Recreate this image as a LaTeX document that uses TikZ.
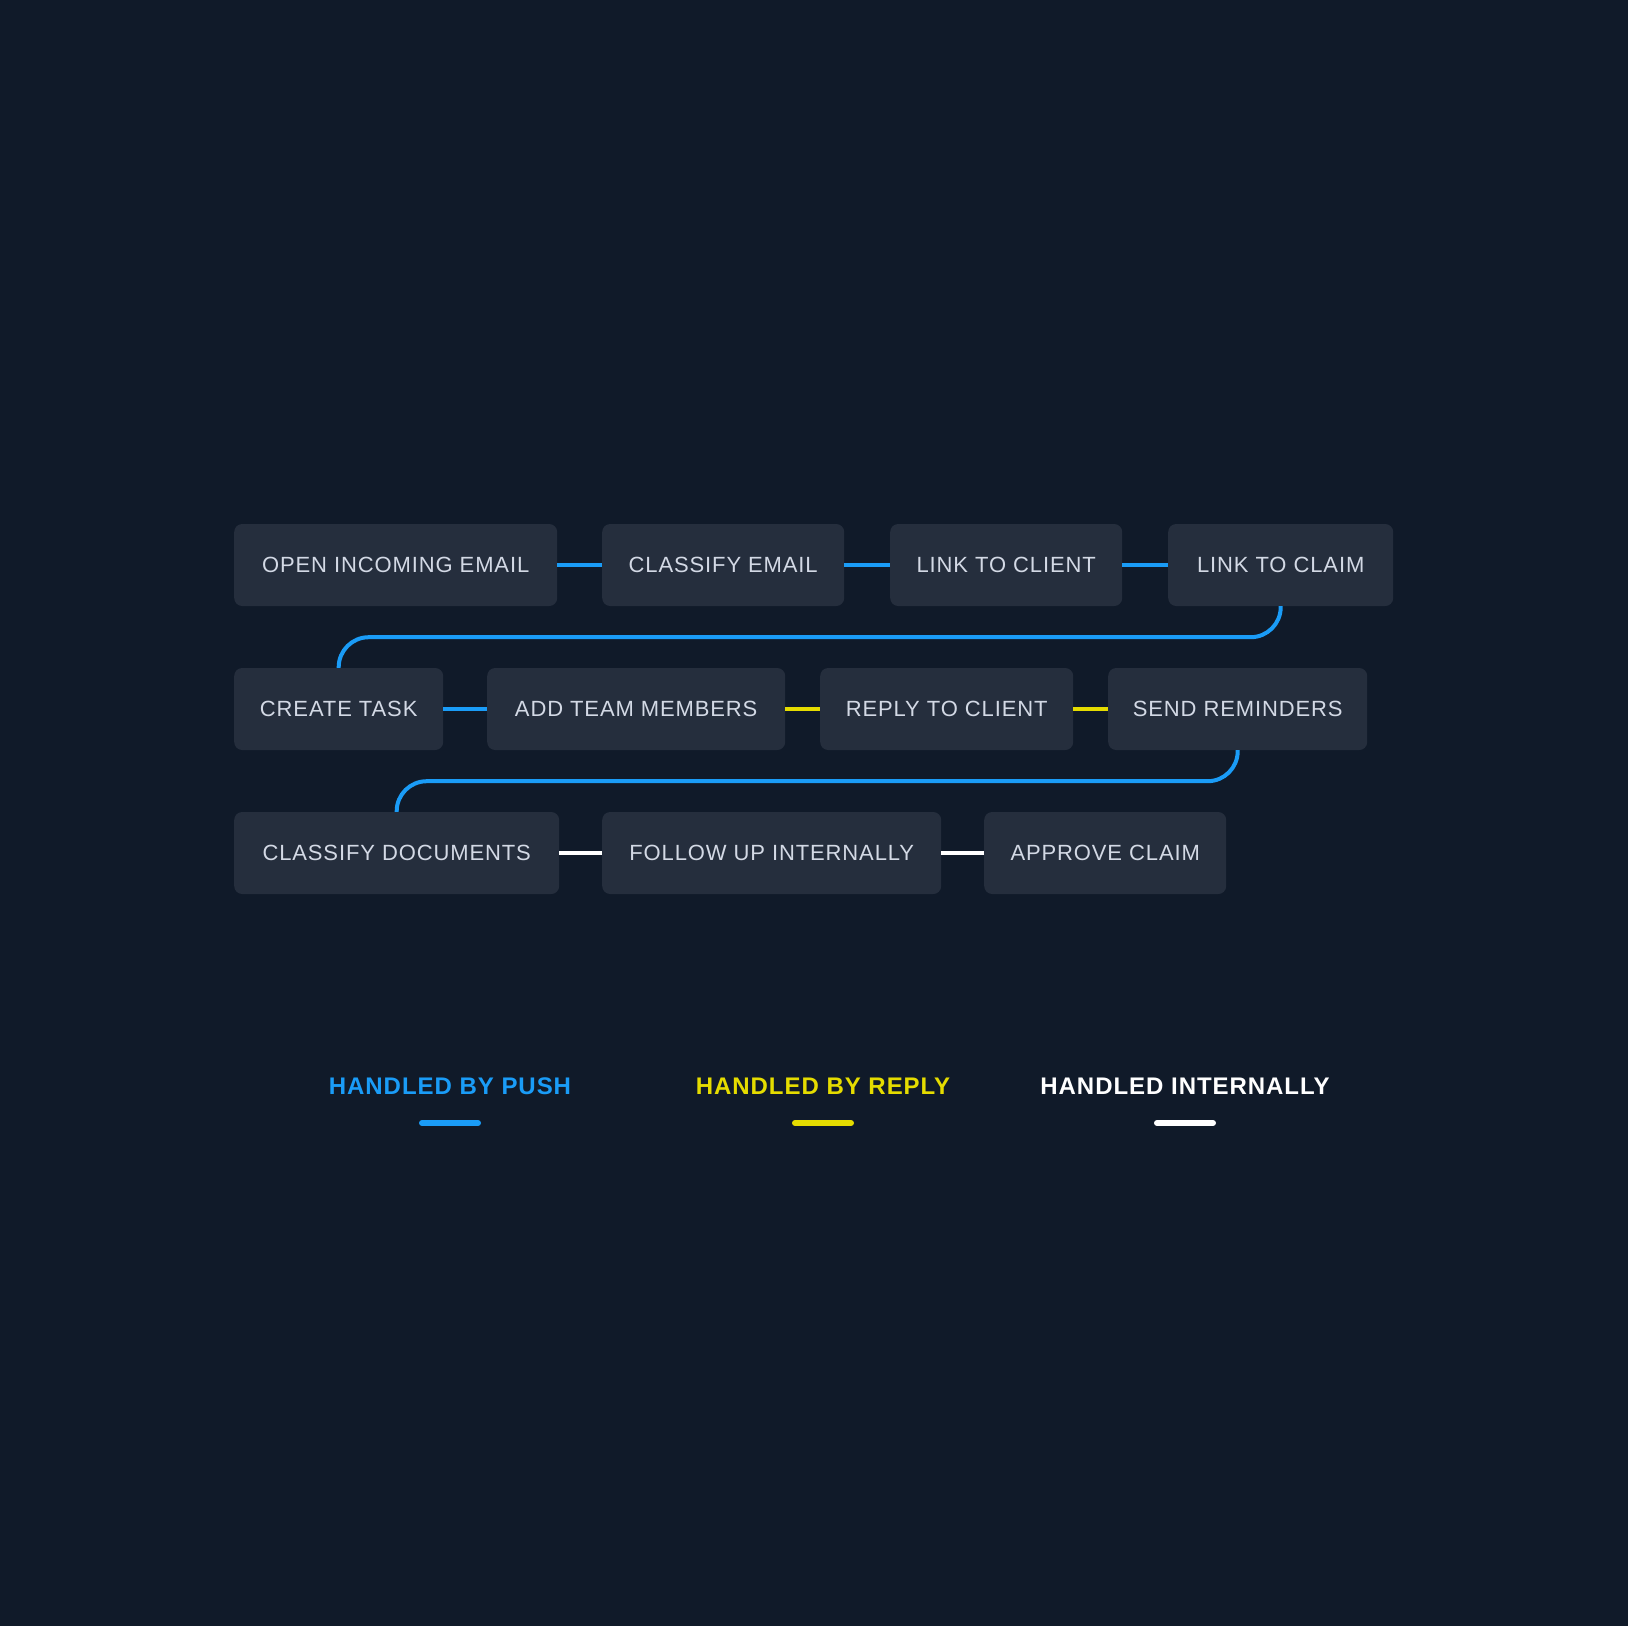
\documentclass[tikz,border=0pt]{standalone}
\usepackage{fontspec}
\setmainfont{Liberation Sans}[LetterSpace=4]
\usetikzlibrary{calc}
\definecolor{bgnavy}{HTML}{101A29}
\definecolor{boxgray}{HTML}{252E3D}
\definecolor{boxtext}{HTML}{D3D9E5}
\definecolor{pushblue}{HTML}{1A9CF7}
\definecolor{replyyellow}{HTML}{E5DC00}
\tikzset{
  stepbox/.style={fill=boxgray,rounded corners=8pt,anchor=west,
    minimum height=82pt,inner xsep=0pt,text=boxtext,
    font=\fontsize{22}{26}\selectfont},
  push/.style={draw=pushblue,line width=4pt},
  reply/.style={draw=replyyellow,line width=4pt},
  inhouse/.style={draw=white,line width=4pt},
  keytext/.style={font=\fontsize{24}{28}\selectfont\bfseries},
  keybar/.style={line width=6pt,line cap=round}
}
\begin{document}
\begin{tikzpicture}[x=1pt,y=-1pt]
\fill[bgnavy] (0,0) rectangle (1628,1626);
% first row
\node[stepbox,minimum width=323pt] (open) at (234,565) {OPEN INCOMING EMAIL};
\node[stepbox,minimum width=242pt] (classify) at (602,565) {CLASSIFY EMAIL};
\node[stepbox,minimum width=232pt] (client) at (890,565) {LINK TO CLIENT};
\node[stepbox,minimum width=225pt] (claim) at (1168,565) {LINK TO CLAIM};
% second row
\node[stepbox,minimum width=209pt] (task) at (234,709) {CREATE TASK};
\node[stepbox,minimum width=298pt] (team) at (487,709) {ADD TEAM MEMBERS};
\node[stepbox,minimum width=253pt] (answer) at (820,709) {REPLY TO CLIENT};
\node[stepbox,minimum width=259pt] (remind) at (1108,709) {SEND REMINDERS};
% third row
\node[stepbox,minimum width=325pt] (docs) at (234,853) {CLASSIFY DOCUMENTS};
\node[stepbox,minimum width=339pt] (follow) at (602,853) {FOLLOW UP INTERNALLY};
\node[stepbox,minimum width=242pt] (approve) at (984,853) {APPROVE CLAIM};
% connectors
\draw[push] (open) -- (classify);
\draw[push] (classify) -- (client);
\draw[push] (client) -- (claim);
\draw[push,rounded corners=30pt] (claim.south) -- ++(0,31) -| (task.north);
\draw[push] (task) -- (team);
\draw[reply] (team) -- (answer);
\draw[reply] (answer) -- (remind);
\draw[push,rounded corners=30pt] (remind.south) -- ++(0,31) -| (docs.north);
\draw[inhouse] (docs) -- (follow);
\draw[inhouse] (follow) -- (approve);
% legend
\node[keytext,text=pushblue] (keypush) at (450,1086) {HANDLED BY PUSH};
\node[keytext,text=replyyellow] (keyreply) at (823,1086) {HANDLED BY REPLY};
\node[keytext,text=white] (keyinhouse) at (1185,1086) {HANDLED INTERNALLY};
\draw[keybar,pushblue] ($(keypush)+(-28,37)$) -- ++(56,0);
\draw[keybar,replyyellow] ($(keyreply)+(-28,37)$) -- ++(56,0);
\draw[keybar,white] ($(keyinhouse)+(-28,37)$) -- ++(56,0);
\end{tikzpicture}
\end{document}
